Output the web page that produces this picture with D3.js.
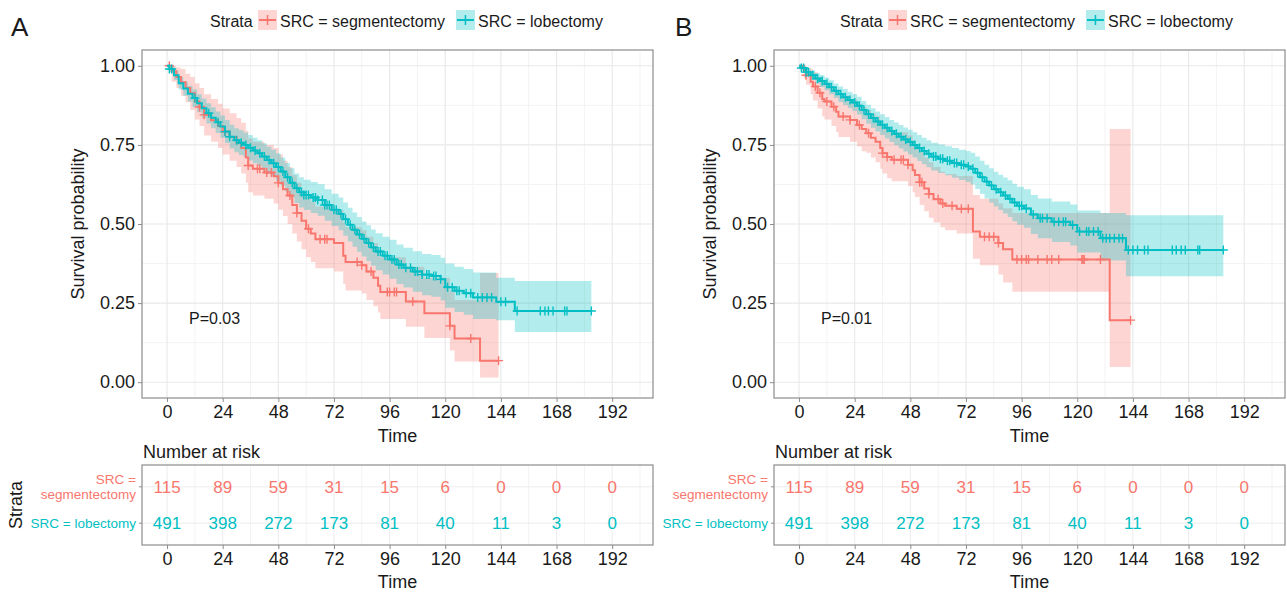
<!DOCTYPE html>
<html>
<head>
<meta charset="utf-8">
<script src="https://cdn.jsdelivr.net/npm/d3@7"></script>
<style>
  body { margin: 0; background: #fff; }
  svg { font-family: 'Liberation Sans', Arial, sans-serif; }
</style>
</head>
<body>
<svg id="chart" width="1287" height="592"></svg>
<script>
const timeTicks = [0, 24, 48, 72, 96, 120, 144, 168, 192]
const timeMinor = [12, 36, 60, 84, 108, 132, 156, 180, 204]
const survTicks = [0, 0.25, 0.5, 0.75, 1]
const survMinor = [0.125, 0.375, 0.625, 0.875]
const strataNames = ['SRC = segmentectomy', 'SRC = lobectomy']
const riskSeg = [115, 89, 59, 31, 15, 6, 0, 0, 0]
const riskLob = [491, 398, 272, 173, 81, 40, 11, 3, 0]

// panel A, segmentectomy
const aSegTime = [0, 2, 4, 6, 8, 10, 12, 14, 16, 19, 22, 24, 27, 30, 32, 34, 35, 37, 42, 46, 48, 50, 52, 54, 56, 58, 60, 62, 64, 72, 76, 77, 84, 86, 89, 91, 92, 103, 111, 122, 124, 135]
const aSegSurv = [1, 0.983, 0.965, 0.948, 0.93, 0.913, 0.887, 0.87, 0.845, 0.828, 0.81, 0.792, 0.775, 0.757, 0.74, 0.71, 0.685, 0.675, 0.663, 0.651, 0.63, 0.61, 0.59, 0.56, 0.535, 0.51, 0.485, 0.47, 0.452, 0.44, 0.4, 0.38, 0.37, 0.35, 0.33, 0.305, 0.285, 0.255, 0.218, 0.178, 0.138, 0.068]
const aSegLow = [1, 0.95, 0.93, 0.905, 0.885, 0.86, 0.83, 0.81, 0.78, 0.76, 0.74, 0.72, 0.7, 0.68, 0.66, 0.63, 0.6, 0.59, 0.58, 0.565, 0.545, 0.525, 0.5, 0.47, 0.445, 0.42, 0.395, 0.38, 0.36, 0.35, 0.31, 0.29, 0.28, 0.26, 0.24, 0.22, 0.2, 0.175, 0.14, 0.1, 0.065, 0.015]
const aSegUpp = [1, 1, 0.995, 0.99, 0.975, 0.965, 0.945, 0.93, 0.91, 0.895, 0.88, 0.865, 0.85, 0.835, 0.82, 0.795, 0.77, 0.76, 0.75, 0.74, 0.72, 0.7, 0.68, 0.655, 0.63, 0.605, 0.585, 0.57, 0.555, 0.545, 0.505, 0.49, 0.48, 0.46, 0.44, 0.415, 0.395, 0.365, 0.33, 0.29, 0.26, 0.345]
const aSegEnd = 143
const aSegCens = [1, 14, 16, 25, 35, 39, 40, 43, 45, 48, 53, 56, 61, 66, 68, 69, 82, 84, 88, 95, 96, 98, 99, 106, 122, 131, 143]

// panel A, lobectomy
const aLobTime = [0, 1, 3, 5, 7, 9, 11, 13, 15, 17, 19, 21, 23, 25, 27, 29, 31, 33, 35, 37, 39, 41, 43, 45, 47, 49, 51, 53, 55, 57, 59, 62, 65, 68, 71, 74, 76, 78, 80, 82, 84, 86, 88, 90, 93, 96, 99, 102, 106, 110, 114, 118, 120, 124, 128, 132, 142, 150]
const aLobSurv = [1, 0.99, 0.97, 0.945, 0.928, 0.912, 0.898, 0.882, 0.866, 0.85, 0.836, 0.822, 0.808, 0.792, 0.776, 0.765, 0.757, 0.75, 0.741, 0.732, 0.724, 0.713, 0.702, 0.692, 0.68, 0.666, 0.648, 0.63, 0.613, 0.6, 0.592, 0.584, 0.576, 0.56, 0.545, 0.532, 0.515, 0.498, 0.482, 0.467, 0.453, 0.44, 0.426, 0.413, 0.4, 0.388, 0.372, 0.362, 0.35, 0.34, 0.336, 0.325, 0.3, 0.289, 0.281, 0.268, 0.254, 0.225]
const aLobLow = [1, 0.98, 0.955, 0.925, 0.905, 0.887, 0.87, 0.853, 0.835, 0.818, 0.803, 0.788, 0.773, 0.756, 0.739, 0.727, 0.718, 0.711, 0.701, 0.692, 0.683, 0.672, 0.66, 0.649, 0.637, 0.622, 0.603, 0.584, 0.566, 0.552, 0.544, 0.535, 0.526, 0.51, 0.494, 0.48, 0.463, 0.445, 0.428, 0.412, 0.397, 0.383, 0.368, 0.354, 0.34, 0.327, 0.31, 0.299, 0.286, 0.275, 0.27, 0.258, 0.235, 0.222, 0.213, 0.2, 0.196, 0.159]
const aLobUpp = [1, 1, 0.985, 0.965, 0.95, 0.937, 0.925, 0.91, 0.897, 0.882, 0.869, 0.856, 0.843, 0.829, 0.814, 0.803, 0.796, 0.789, 0.781, 0.773, 0.765, 0.755, 0.744, 0.735, 0.724, 0.71, 0.693, 0.676, 0.66, 0.648, 0.64, 0.633, 0.626, 0.61, 0.596, 0.584, 0.568, 0.551, 0.536, 0.522, 0.508, 0.496, 0.483, 0.471, 0.46, 0.45, 0.435, 0.425, 0.414, 0.405, 0.402, 0.393, 0.375, 0.365, 0.358, 0.347, 0.33, 0.32]
const aLobEnd = 183
const aLobCens = [1, 2, 12, 18, 22, 25, 27, 30, 32, 34, 36, 38, 40, 42, 44, 46, 48, 50, 52, 54, 56, 58, 59, 60, 61, 63, 64, 65, 67, 68, 69, 70, 72, 73, 75, 77, 79, 81, 83, 85, 87, 89, 91, 92, 94, 95, 97, 98, 100, 101, 103, 105, 107, 108, 110, 112, 113, 115, 116, 118, 121, 123, 125, 126, 129, 131, 134, 136, 138, 140, 144, 146, 151, 161, 163, 164.5, 166.5, 171.5, 172.5, 183]

// panel B, segmentectomy
const bSegTime = [0, 2, 3, 5, 6, 8, 10, 11, 14, 16, 17, 22, 25, 27, 29, 31, 33, 35, 36, 38, 40, 47, 49, 50, 52, 54, 56, 58, 61, 63, 68, 75, 78, 86, 88, 92, 134]
const bSegSurv = [1, 0.985, 0.97, 0.95, 0.935, 0.915, 0.895, 0.887, 0.871, 0.855, 0.84, 0.829, 0.813, 0.8, 0.787, 0.773, 0.76, 0.74, 0.724, 0.712, 0.703, 0.687, 0.67, 0.655, 0.632, 0.612, 0.595, 0.578, 0.565, 0.558, 0.548, 0.476, 0.46, 0.44, 0.42, 0.388, 0.196]
const bSegLow = [1, 0.96, 0.94, 0.91, 0.89, 0.865, 0.84, 0.83, 0.81, 0.79, 0.775, 0.76, 0.745, 0.73, 0.725, 0.71, 0.695, 0.675, 0.66, 0.645, 0.635, 0.62, 0.6, 0.585, 0.56, 0.54, 0.52, 0.505, 0.49, 0.48, 0.47, 0.39, 0.37, 0.34, 0.315, 0.286, 0.048]
const bSegUpp = [1, 1, 0.995, 0.99, 0.98, 0.965, 0.95, 0.945, 0.93, 0.92, 0.905, 0.895, 0.88, 0.87, 0.86, 0.85, 0.84, 0.825, 0.81, 0.8, 0.79, 0.78, 0.765, 0.75, 0.73, 0.71, 0.695, 0.68, 0.665, 0.658, 0.652, 0.592, 0.58, 0.565, 0.55, 0.535, 0.8]
const bSegEnd = 143
const bSegCens = [3, 7, 9, 12, 15, 19, 22, 26, 30, 36, 38, 41, 44, 45, 47, 52, 53, 56, 60, 62, 66, 70, 73, 80, 82, 84, 86, 94, 96, 98, 99, 103, 107, 109, 112, 122, 122.5, 123, 130, 143]

// panel B, lobectomy
const bLobTime = [0, 1, 3, 5, 7, 9, 11, 13, 15, 17, 19, 21, 23, 25, 27, 29, 31, 33, 35, 37, 39, 41, 43, 45, 47, 49, 51, 53, 55, 57, 60, 63, 66, 69, 72, 74, 76, 78, 80, 82, 84, 86, 88, 90, 92, 94, 97, 100, 103, 109, 117, 120, 130, 141]
const bLobSurv = [1, 0.993, 0.98, 0.97, 0.96, 0.952, 0.943, 0.932, 0.921, 0.91, 0.901, 0.892, 0.884, 0.874, 0.86, 0.847, 0.835, 0.824, 0.814, 0.804, 0.794, 0.785, 0.776, 0.767, 0.759, 0.75, 0.74, 0.731, 0.722, 0.713, 0.706, 0.7, 0.693, 0.687, 0.682, 0.675, 0.662, 0.648, 0.634, 0.622, 0.61, 0.6, 0.59, 0.58, 0.568, 0.558, 0.549, 0.53, 0.518, 0.507, 0.497, 0.476, 0.455, 0.418]
const bLobLow = [1, 0.985, 0.967, 0.955, 0.943, 0.933, 0.923, 0.91, 0.898, 0.886, 0.876, 0.866, 0.857, 0.846, 0.831, 0.817, 0.804, 0.792, 0.781, 0.77, 0.759, 0.749, 0.739, 0.729, 0.72, 0.71, 0.699, 0.689, 0.679, 0.669, 0.661, 0.654, 0.646, 0.639, 0.633, 0.625, 0.611, 0.596, 0.581, 0.568, 0.555, 0.544, 0.533, 0.522, 0.509, 0.498, 0.488, 0.468, 0.455, 0.443, 0.432, 0.41, 0.385, 0.335]
const bLobUpp = [1, 1, 0.993, 0.985, 0.977, 0.971, 0.963, 0.954, 0.944, 0.935, 0.927, 0.918, 0.911, 0.902, 0.889, 0.877, 0.866, 0.856, 0.847, 0.838, 0.829, 0.821, 0.813, 0.805, 0.798, 0.79, 0.781, 0.773, 0.765, 0.757, 0.751, 0.746, 0.74, 0.735, 0.731, 0.725, 0.713, 0.7, 0.687, 0.676, 0.665, 0.656, 0.647, 0.638, 0.627, 0.618, 0.61, 0.592, 0.581, 0.571, 0.562, 0.543, 0.535, 0.528]
const bLobEnd = 183
const bLobCens = [1, 2, 3, 4, 6, 8, 10, 12, 14, 16, 18, 20, 22, 24, 26, 28, 30, 32, 34, 36, 38, 40, 42, 44, 46, 48, 50, 52, 54, 56, 58, 59, 61, 62, 64, 65, 67, 68, 70, 71, 73, 75, 77, 79, 81, 83, 85, 87, 89, 91, 93, 95, 96, 98, 101, 104, 105, 107, 110, 112, 114, 115, 118, 121, 124, 125, 127, 129, 131, 132.5, 134, 136, 138, 139.5, 142, 144, 146, 149, 150.5, 161, 162.7, 164.8, 166.6, 172, 172.8, 183]

const colors = ['#F8766D', '#00BFC4']
const textColor = '#1a1a1a'
const borderColor = '#8c8c8c'

const svg = d3.select('#chart')

function makeSeries (time, surv, low, upp, end, cens) {
  const pts = time.map((t, i) => ({ t, s: surv[i], lo: low[i], hi: upp[i] }))
  const last = pts[pts.length - 1]
  pts.push({ t: end, s: last.s, lo: last.lo, hi: last.hi })
  return { pts, cens }
}

// survival value of a step curve at time t
function survAt (pts, t) {
  let s = pts[0].s
  for (const p of pts) {
    if (p.t <= t) s = p.s
  }
  return s
}

function drawPanel (cfg) {
  const g = svg.append('g')
  const x = d3.scaleLinear().domain([-10.8, 209.6]).range([cfg.left, cfg.left + 511])
  const y = d3.scaleLinear().domain([-0.05, 1.05]).range([398, 50])
  const top = 50
  const bottom = 398

  // panel letter
  g.append('text').attr('x', cfg.letterX).attr('y', 36)
    .style('font-size', '26px').attr('fill', textColor).text(cfg.letter)

  // legend
  const lg = g.append('g').attr('transform', `translate(${cfg.legendX},0)`)
  lg.append('text').attr('x', 0).attr('y', 27).style('font-size', '16px')
    .attr('fill', textColor).text('Strata')
  let kx = 48
  strataNames.forEach((name, i) => {
    lg.append('rect').attr('x', kx).attr('y', 10).attr('width', 19).attr('height', 20)
      .attr('fill', colors[i]).attr('fill-opacity', 0.3)
    lg.append('line').attr('x1', kx + 1).attr('x2', kx + 18).attr('y1', 20).attr('y2', 20)
      .attr('stroke', colors[i]).attr('stroke-width', 2)
    lg.append('path').attr('d', `M${kx + 9.5},15v10`).attr('stroke', colors[i]).attr('stroke-width', 1.5)
    const tx = lg.append('text').attr('x', kx + 22).attr('y', 27).style('font-size', '16px')
      .attr('fill', textColor).text(name)
    kx = kx + 22 + tx.node().getComputedTextLength() + 11
  })

  // grid
  const grid = g.append('g')
  grid.selectAll('.vminor').data(timeMinor).enter().append('line')
    .attr('x1', d => x(d)).attr('x2', d => x(d)).attr('y1', top).attr('y2', bottom)
    .attr('stroke', '#f3f3f3').attr('stroke-width', 1)
  grid.selectAll('.hminor').data(survMinor).enter().append('line')
    .attr('x1', cfg.left).attr('x2', cfg.left + 511).attr('y1', d => y(d)).attr('y2', d => y(d))
    .attr('stroke', '#f3f3f3').attr('stroke-width', 1)
  grid.selectAll('.vmajor').data(timeTicks).enter().append('line')
    .attr('x1', d => x(d)).attr('x2', d => x(d)).attr('y1', top).attr('y2', bottom)
    .attr('stroke', '#e8e8e8').attr('stroke-width', 1.1)
  grid.selectAll('.hmajor').data(survTicks).enter().append('line')
    .attr('x1', cfg.left).attr('x2', cfg.left + 511).attr('y1', d => y(d)).attr('y2', d => y(d))
    .attr('stroke', '#e8e8e8').attr('stroke-width', 1.1)

  const area = d3.area().curve(d3.curveStepAfter)
    .x(d => x(d.t)).y0(d => y(d.lo)).y1(d => y(d.hi))
  const line = d3.line().curve(d3.curveStepAfter)
    .x(d => x(d.t)).y(d => y(d.s))

  cfg.series.forEach((s, i) => {
    g.append('path').attr('d', area(s.pts)).attr('fill', colors[i]).attr('fill-opacity', 0.3)
  })
  cfg.series.forEach((s, i) => {
    g.append('path').attr('d', line(s.pts)).attr('fill', 'none')
      .attr('stroke', colors[i]).attr('stroke-width', 2)
    g.append('g').selectAll('path').data(s.cens).enter().append('path')
      .attr('d', t => {
        const cx = x(t)
        const cy = y(survAt(s.pts, t))
        return `M${cx - 4.5},${cy}h9M${cx},${cy - 4.5}v9`
      })
      .attr('stroke', colors[i]).attr('stroke-width', 1.4)
  })

  // p value
  g.append('text').attr('x', x(20.5)).attr('y', y(0.2) + 5).attr('text-anchor', 'middle')
    .style('font-size', '16px').attr('fill', textColor).text(cfg.pval)

  // border and axes
  g.append('rect').attr('x', cfg.left).attr('y', top).attr('width', 511).attr('height', bottom - top)
    .attr('fill', 'none').attr('stroke', borderColor).attr('stroke-width', 1.2)
  const xAxis = d3.axisBottom(x).tickValues(timeTicks).tickSize(4).tickPadding(3)
  const ax = g.append('g').attr('transform', `translate(0,${bottom})`).call(xAxis)
  ax.select('.domain').remove()
  ax.selectAll('line').attr('stroke', borderColor)
  ax.selectAll('text').style('font-size', '18px').attr('fill', textColor).attr('font-family', null)
  const yAxis = d3.axisLeft(y).tickValues(survTicks).tickSize(4).tickPadding(3).tickFormat(d3.format('.2f'))
  const ay = g.append('g').attr('transform', `translate(${cfg.left},0)`).call(yAxis)
  ay.select('.domain').remove()
  ay.selectAll('line').attr('stroke', borderColor)
  ay.selectAll('text').style('font-size', '18px').attr('fill', textColor).attr('font-family', null)

  g.append('text').attr('x', cfg.left + 255.5).attr('y', 442).attr('text-anchor', 'middle')
    .style('font-size', '18px').attr('fill', textColor).text('Time')
  g.append('text').attr('transform', `translate(${cfg.ylabX},224) rotate(-90)`)
    .attr('text-anchor', 'middle').style('font-size', '18px').attr('fill', textColor)
    .text('Survival probability')

  // risk table
  const tTop = 465
  const tBottom = 545
  const ty = d3.scaleLinear().domain([0.4, 2.6]).range([tBottom, tTop])
  const rows = [
    { level: 2, counts: riskSeg, color: colors[0], label: ['SRC =', 'segmentectomy'] },
    { level: 1, counts: riskLob, color: colors[1], label: ['SRC = lobectomy'] }
  ]
  g.append('text').attr('x', cfg.left + 1).attr('y', 458).style('font-size', '18px')
    .attr('fill', textColor).text('Number at risk')
  const tg = g.append('g')
  tg.selectAll('.tvminor').data(timeMinor).enter().append('line')
    .attr('x1', d => x(d)).attr('x2', d => x(d)).attr('y1', tTop).attr('y2', tBottom)
    .attr('stroke', '#f3f3f3')
  tg.selectAll('.tvmajor').data(timeTicks).enter().append('line')
    .attr('x1', d => x(d)).attr('x2', d => x(d)).attr('y1', tTop).attr('y2', tBottom)
    .attr('stroke', '#ececec')
  tg.selectAll('.thmajor').data(rows).enter().append('line')
    .attr('x1', cfg.left).attr('x2', cfg.left + 511).attr('y1', d => ty(d.level)).attr('y2', d => ty(d.level))
    .attr('stroke', '#ececec')
  rows.forEach(r => {
    tg.append('g').selectAll('text').data(r.counts).enter().append('text')
      .attr('x', (d, i) => x(timeTicks[i])).attr('y', ty(r.level) + 6)
      .attr('text-anchor', 'middle').style('font-size', '17px').attr('fill', r.color)
      .text(d => d)
    const lab = tg.append('text').attr('text-anchor', 'end').style('font-size', '13.5px')
      .attr('fill', r.color)
    r.label.forEach((s, j) => {
      lab.append('tspan').attr('x', cfg.left - 6)
        .attr('y', ty(r.level) + 5 + (j - (r.label.length - 1) / 2) * 15).text(s)
    })
    tg.append('line').attr('x1', cfg.left - 3).attr('x2', cfg.left).attr('y1', ty(r.level)).attr('y2', ty(r.level))
      .attr('stroke', borderColor)
  })
  tg.append('rect').attr('x', cfg.left).attr('y', tTop).attr('width', 511).attr('height', tBottom - tTop)
    .attr('fill', 'none').attr('stroke', borderColor).attr('stroke-width', 1.2)
  const tx = g.append('g').attr('transform', `translate(0,${tBottom})`).call(xAxis)
  tx.select('.domain').remove()
  tx.selectAll('line').attr('stroke', borderColor)
  tx.selectAll('text').style('font-size', '18px').attr('fill', textColor).attr('font-family', null)
  g.append('text').attr('x', cfg.left + 255.5).attr('y', 588).attr('text-anchor', 'middle')
    .style('font-size', '18px').attr('fill', textColor).text('Time')
  if (cfg.strataTitle) {
    g.append('text').attr('transform', `translate(22,505) rotate(-90)`)
      .attr('text-anchor', 'middle').style('font-size', '18px').attr('fill', textColor).text('Strata')
  }
}

drawPanel({
  letter: 'A',
  letterX: 11,
  legendX: 210,
  left: 142,
  ylabX: 84,
  pval: 'P=0.03',
  strataTitle: true,
  series: [
    makeSeries(aSegTime, aSegSurv, aSegLow, aSegUpp, aSegEnd, aSegCens),
    makeSeries(aLobTime, aLobSurv, aLobLow, aLobUpp, aLobEnd, aLobCens)
  ]
})

drawPanel({
  letter: 'B',
  letterX: 675,
  legendX: 840,
  left: 774,
  ylabX: 716,
  pval: 'P=0.01',
  strataTitle: false,
  series: [
    makeSeries(bSegTime, bSegSurv, bSegLow, bSegUpp, bSegEnd, bSegCens),
    makeSeries(bLobTime, bLobSurv, bLobLow, bLobUpp, bLobEnd, bLobCens)
  ]
})
</script>
</body>
</html>
